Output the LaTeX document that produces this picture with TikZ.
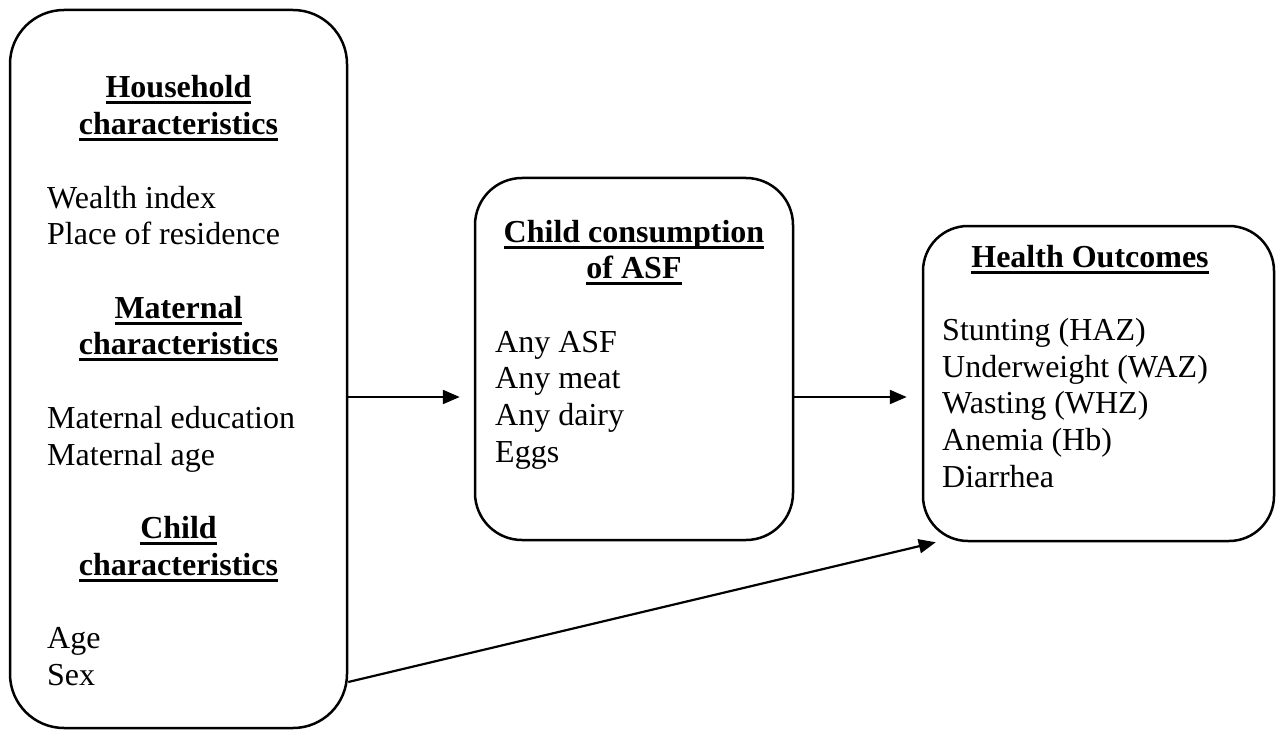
\documentclass[tikz,border=0pt]{standalone}
\usepackage{fontspec}
\setmainfont{Liberation Serif}
\usetikzlibrary{arrows.meta}
\newsavebox\hdrbox
\newcommand\hdr[1]{\sbox\hdrbox{\bfseries #1}\rlap{\rule[-6.5pt]{\wd\hdrbox}{3pt}}\usebox\hdrbox}
\begin{document}
\begin{tikzpicture}[x=1pt,y=-1pt,
  box/.style={draw, line width=2.5pt, rounded corners=#1, inner sep=0pt},
  box/.default=46pt,
  txt/.style={inner sep=0pt, anchor=base west, font=\fontsize{32pt}{36.7pt}\selectfont},
  head/.style={inner sep=0pt, anchor=base, font=\fontsize{32pt}{36.7pt}\selectfont},
  conn/.style={line width=2.2pt, -{Triangle[length=17pt,width=14pt]}}]
\useasboundingbox (0,0) rectangle (1276,730);
% boxes
\node[box=54pt, minimum width=337pt, minimum height=718pt] (L) at (178.5,369) {};
\node[box=47pt, minimum width=318pt, minimum height=362pt] (M) at (634,359) {};
\node[box=45pt, minimum width=351pt, minimum height=315pt] (R) at (1098.5,383.5) {};
% left box texts
\node[head] (h1a) at (178.5,98) {\hdr{Household}};
\node[head] (h1b) at (178.5,134.7) {\hdr{characteristics}};
\node[txt] (l1) at (47,208) {Wealth index};
\node[txt] (l2) at (47,244.8) {Place of residence};
\node[head] (h2a) at (178.5,318.2) {\hdr{Maternal}};
\node[head] (h2b) at (178.5,354.9) {\hdr{characteristics}};
\node[txt] (l3) at (47,428.3) {Maternal education};
\node[txt] (l4) at (47,465) {Maternal age};
\node[head] (h3a) at (178.5,538.4) {\hdr{Child}};
\node[head] (h3b) at (178.5,575.1) {\hdr{characteristics}};
\node[txt] (l5) at (47,648.5) {Age};
\node[txt] (l6) at (47,685.2) {Sex};
% middle box texts
\node[head] (h4a) at (634,242) {\hdr{Child consumption}};
\node[head] (h4b) at (634,278.7) {\hdr{of ASF}};
\node[txt] (m1) at (495,352) {Any ASF};
\node[txt] (m2) at (495,388.7) {Any meat};
\node[txt] (m3) at (495,425.4) {Any dairy};
\node[txt] (m4) at (495,462.1) {Eggs};
% right box texts
\node[head] (h5) at (1090,267) {\hdr{Health Outcomes}};
\node[txt] (r1) at (942,340.4) {Stunting (HAZ)};
\node[txt] (r2) at (942,377.1) {Underweight (WAZ)};
\node[txt] (r3) at (942,413.8) {Wasting (WHZ)};
\node[txt] (r4) at (942,450.5) {Anemia (Hb)};
\node[txt] (r5) at (942,487.2) {Diarrhea};
% connectors
\draw[conn, shorten >=14pt] ([yshift=-28pt]L.east) -- ([yshift=-38pt]M.west);
\draw[conn, shorten >=15pt] ([yshift=-38pt]M.east) -- ([yshift=-13.5pt]R.west);
\draw[conn] ([yshift=-313pt]L.east) -- ([xshift=14pt]R.south west);
\end{tikzpicture}
\end{document}
